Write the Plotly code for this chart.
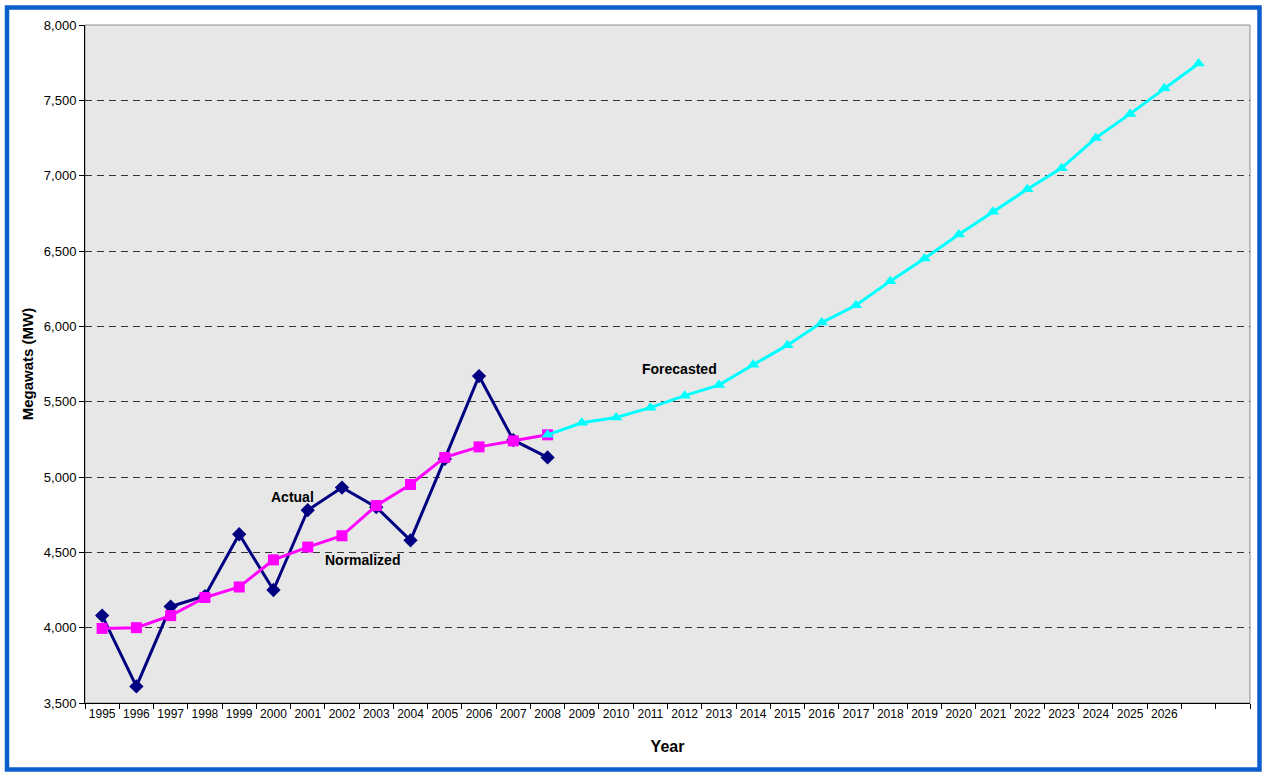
import plotly.graph_objects as go

years_hist = list(range(1995, 2009))
actual = [4080, 3610, 4140, 4210, 4620, 4250, 4780, 4930, 4800, 4580, 5120, 5670, 5245, 5130]
normalized = [3995, 4000, 4080, 4200, 4270, 4450, 4535, 4610, 4810, 4950, 5130, 5200, 5240, 5280]

years_fc = list(range(2008, 2028))
forecast = [5280, 5360, 5395, 5460, 5540, 5610, 5745, 5875, 6025, 6140, 6300, 6450,
            6610, 6760, 6910, 7050, 7250, 7410, 7580, 7745]

tick_years = list(range(1995, 2027))
tick_text = [str(y) for y in tick_years]
y_ticks = list(range(3500, 8001, 500))

FONT = "Liberation Sans, Arial, sans-serif"

fig = go.Figure()
fig.add_trace(go.Scatter(
    x=years_hist, y=actual, mode="lines+markers", name="Actual",
    line=dict(color="#000080", width=3),
    marker=dict(symbol="diamond", size=11, color="#000080"),
))
fig.add_trace(go.Scatter(
    x=years_hist, y=normalized, mode="lines+markers", name="Normalized",
    line=dict(color="#FF00FF", width=3),
    marker=dict(symbol="square", size=11, color="#FF00FF"),
))
fig.add_trace(go.Scatter(
    x=years_fc, y=forecast, mode="lines+markers", name="Forecasted",
    line=dict(color="#00FFFF", width=3),
    marker=dict(symbol="triangle-up", size=11, color="#00FFFF"),
))

L, R, T, B = 85, 12, 25, 70
W, H = 1262, 773
pw, ph = W - L - R, H - T - B

def px_x(x):
    return (x - L) / pw

def px_y(y):
    return (H - B - y) / ph

fig.update_layout(
    width=W, height=H,
    margin=dict(l=L, r=R, t=T, b=B),
    paper_bgcolor="white",
    plot_bgcolor="#e7e7e7",
    showlegend=False,
    font=dict(family=FONT, size=12, color="black"),
    xaxis=dict(
        range=[1994.5, 2028.5],
        tickmode="array", tickvals=tick_years, ticktext=tick_text,
        ticks="", showgrid=False, zeroline=False,
        showline=True, linecolor="black", linewidth=1,
        tickfont=dict(family=FONT, size=12, color="black"),
        minor=dict(tickmode="linear", tick0=1994.5, dtick=1, ticks="outside",
                   ticklen=5, tickcolor="black", showgrid=False),
        title=dict(text="<b>Year</b>", font=dict(family=FONT, size=16, color="black"), standoff=20),
        fixedrange=True,
    ),
    yaxis=dict(
        range=[3500, 8000],
        tickmode="array", tickvals=y_ticks, tickformat=",",
        ticks="outside", ticklen=5, tickcolor="black",
        showgrid=True, gridcolor="#333333", gridwidth=1, griddash="7px,5px",
        zeroline=False, showline=True, linecolor="black", linewidth=1,
        tickfont=dict(family=FONT, size=13, color="black"),
        title=dict(text="<b>Megawats (MW)</b>", font=dict(family=FONT, size=15, color="black"), standoff=6),
        fixedrange=True,
    ),
    shapes=[
        dict(type="rect", xref="paper", yref="paper", x0=0, x1=1, y0=0, y1=1,
             line=dict(color="#8c8c8c", width=1), layer="below"),
        dict(type="rect", xref="paper", yref="paper",
             x0=px_x(7), x1=px_x(1259.5), y0=px_y(769.5), y1=px_y(7.5),
             line=dict(color="#0B5FCC", width=4.5)),
    ],
    annotations=[
        dict(x=2000.57, y=4870, xref="x", yref="y", text="<b>Actual</b>", showarrow=False,
             font=dict(family=FONT, size=14, color="black")),
        dict(x=2002.6, y=4450, xref="x", yref="y", text="<b>Normalized</b>", showarrow=False,
             font=dict(family=FONT, size=14, color="black")),
        dict(x=2011.84, y=5720, xref="x", yref="y", text="<b>Forecasted</b>", showarrow=False,
             font=dict(family=FONT, size=14, color="black")),
    ],
)

fig.write_html("out.html")
